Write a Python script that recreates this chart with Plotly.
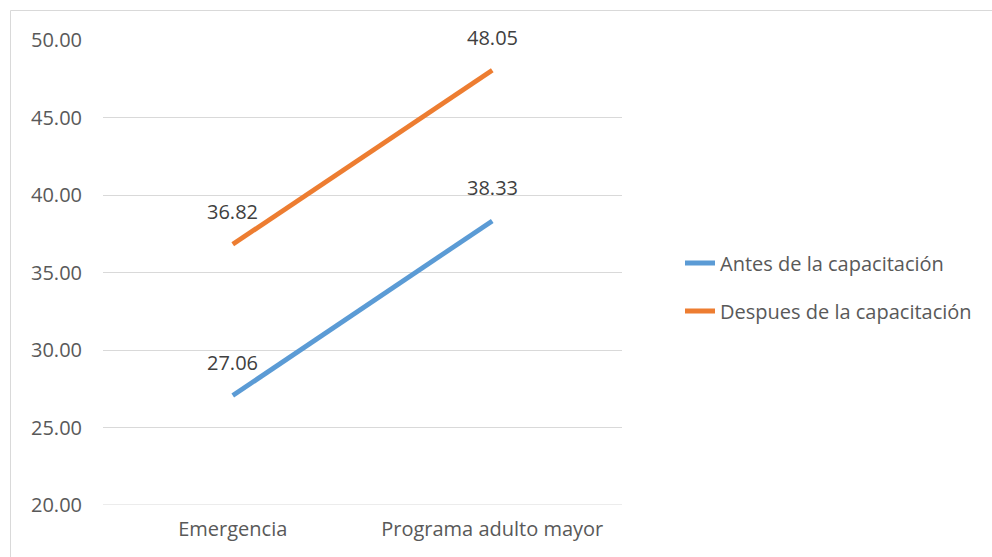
import plotly.graph_objects as go

categories = ["Emergencia", "Programa adulto mayor"]
antes = [27.06, 38.33]
despues = [36.82, 48.05]
series_names = ["Antes de la capacitación", "Despues de la capacitación"]
y_ticks = [20, 25, 30, 35, 40, 45, 50]
y_tick_labels = ["20.00", "25.00", "30.00", "35.00", "40.00", "45.00", "50.00"]

W, H = 992, 557
L, R, T, B = 103, 370, 40, 52
pw, ph = W - L - R, H - T - B

FONT = "Open Sans"
colors = ["#5B9BD5", "#ED7D31"]

fig = go.Figure()
for i, (name, vals) in enumerate(zip(series_names, [antes, despues])):
    fig.add_trace(go.Scatter(
        x=categories, y=vals, mode="lines", name=name,
        line=dict(color=colors[i], width=4.8),
        legendgroup=f"g{i}", hoverinfo="skip",
    ))

annotations = []
for vals in [antes, despues]:
    for c, v in zip(categories, vals):
        annotations.append(dict(
            x=c, y=v, text=f"{v:.2f}", showarrow=False, yshift=33,
            font=dict(family=FONT, size=20, color="#404040"),
        ))

def px_x(p):
    return (p - L) / pw

def px_y(p):
    return (H - B - p) / ph

fig.update_layout(
    width=W, height=H,
    margin=dict(l=L, r=R, t=T, b=B),
    paper_bgcolor="white", plot_bgcolor="white",
    font=dict(family=FONT, size=20, color="#595959"),
    showlegend=True,
    legend=dict(
        x=px_x(680), xanchor="left", y=px_y(287), yanchor="middle",
        traceorder="grouped", tracegroupgap=19,
        font=dict(family=FONT, size=20, color="#595959"),
        bgcolor="rgba(0,0,0,0)",
    ),
    xaxis=dict(
        type="category", range=[-0.5, 1.5],
        showgrid=False, zeroline=False, showline=False, ticks="",
        tickfont=dict(family=FONT, size=20, color="#595959"),
        ticklabelstandoff=10, fixedrange=True,
    ),
    yaxis=dict(
        range=[20, 50], tickvals=y_ticks, ticktext=y_tick_labels,
        showgrid=True, gridcolor="#d9d9d9", gridwidth=1,
        zeroline=False, showline=False, ticks="",
        tickfont=dict(family=FONT, size=20, color="#595959"),
        ticklabelstandoff=20, fixedrange=True,
    ),
    annotations=annotations,
    shapes=[
        dict(
            type="rect", xref="paper", yref="paper",
            x0=px_x(10.5), x1=px_x(1005), y0=px_y(570), y1=px_y(10.5),
            line=dict(color="#d9d9d9", width=1), fillcolor="rgba(0,0,0,0)",
            layer="below",
        ),
        dict(
            type="line", xref="paper", yref="y",
            x0=0, x1=1, y0=y_ticks[0], y1=y_ticks[0],
            line=dict(color="#d9d9d9", width=1), layer="below",
        ),
    ],
)

fig.write_html("out.html")
